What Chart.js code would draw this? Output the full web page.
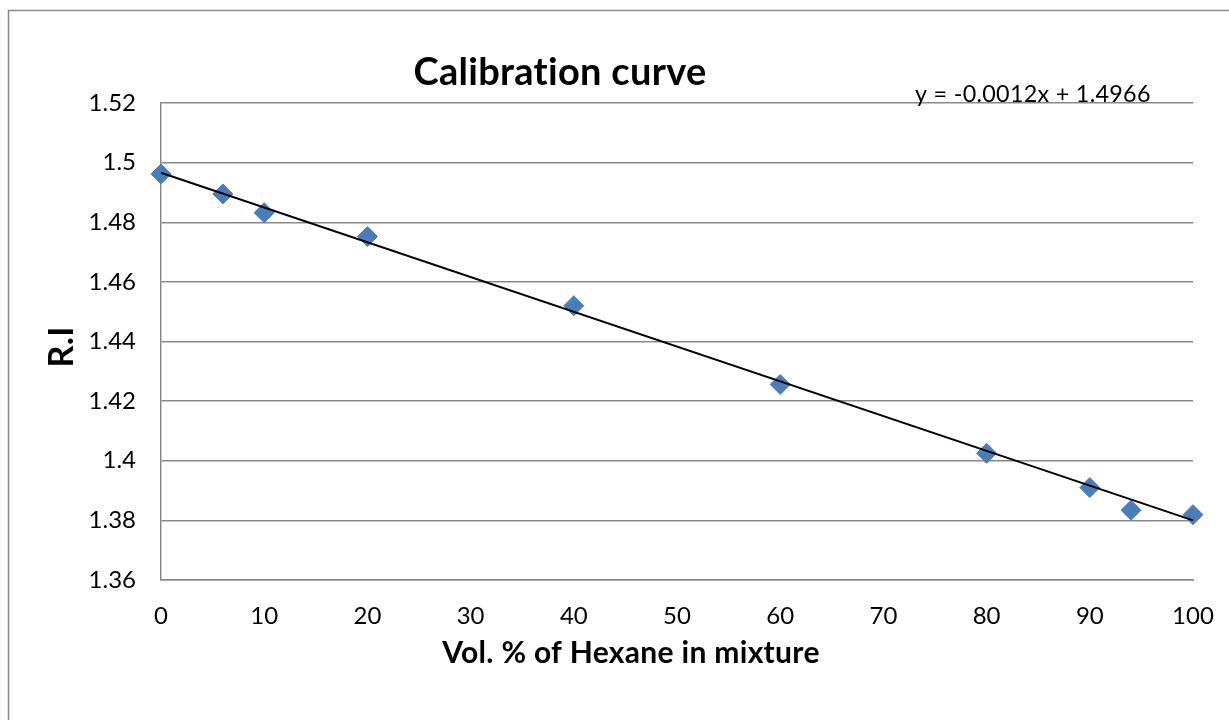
<!DOCTYPE html>
<html>
<head>
<meta charset="utf-8">
<script src="https://cdn.jsdelivr.net/npm/chart.js@4.4.1/dist/chart.umd.min.js"></script>
<style>
  html, body { margin: 0; padding: 0; background: #ffffff; }
  #wrap { width: 1229px; height: 720px; position: relative; }
</style>
</head>
<body>
<div id="wrap"><canvas id="c" width="1229" height="720"></canvas></div>
<script>
// ---- data ----
const chartTitle = 'Calibration curve';
const xAxisTitle = 'Vol. % of Hexane in mixture';
const yAxisTitle = 'R.I';
const equationText = 'y = -0.0012x + 1.4966';

const volHexane = [0, 6, 10, 20, 40, 60, 80, 90, 94, 100];
const refractiveIndex = [1.4962, 1.4895, 1.4832, 1.4752, 1.4520, 1.4256, 1.4025, 1.3910, 1.3834, 1.3819];

const trendX = [0, 100];
const trendY = [1.4966, 1.3800];

const xTickValues = [0, 10, 20, 30, 40, 50, 60, 70, 80, 90, 100];
const xTickLabels = ['0', '10', '20', '30', '40', '50', '60', '70', '80', '90', '100'];
const yTickValues = [1.36, 1.38, 1.40, 1.42, 1.44, 1.46, 1.48, 1.50, 1.52];
const yTickLabels = ['1.36', '1.38', '1.4', '1.42', '1.44', '1.46', '1.48', '1.5', '1.52'];

// ---- chart ----
const FONT = 'Lato, "Open Sans", sans-serif';
const GRID = '#898989';

function fitSize(ctx, text, weight, target) {
  ctx.font = weight + ' 100px ' + FONT;
  return 100 * target / ctx.measureText(text).width;
}

const textPlugin = {
  id: 'excelText',
  afterDraw(chart) {
    const ctx = chart.ctx;
    ctx.save();
    // outer chart border (left and top visible)
    ctx.strokeStyle = GRID;
    ctx.lineWidth = 1.5;
    ctx.beginPath();
    ctx.moveTo(8.5, 720);
    ctx.lineTo(8.5, 10.5);
    ctx.lineTo(1229, 10.5);
    ctx.stroke();

    ctx.fillStyle = '#000000';
    try { ctx.letterSpacing = '0.3px'; } catch (e) {}
    // title
    let s = fitSize(ctx, chartTitle, 'bold', 290);
    ctx.font = 'bold ' + s + 'px ' + FONT;
    ctx.textAlign = 'center';
    ctx.textBaseline = 'alphabetic';
    ctx.fillText(chartTitle, 560, 85);
    // equation
    s = fitSize(ctx, equationText, 'normal', 231);
    ctx.font = 'normal ' + s + 'px ' + FONT;
    ctx.textAlign = 'left';
    ctx.fillText(equationText, 915, 102);
    // x title
    s = fitSize(ctx, xAxisTitle, 'bold', 372);
    ctx.font = 'bold ' + s + 'px ' + FONT;
    ctx.textAlign = 'center';
    ctx.fillText(xAxisTitle, 631, 663);
    // y title
    s = fitSize(ctx, yAxisTitle, 'bold', 40.6);
    ctx.font = 'bold ' + s + 'px ' + FONT;
    ctx.translate(73.3, 347);
    ctx.rotate(-Math.PI / 2);
    ctx.textAlign = 'center';
    ctx.fillText(yAxisTitle, 0, 0);
    ctx.restore();
  }
};

new Chart(document.getElementById('c'), {
  type: 'scatter',
  data: {
    datasets: [
      {
        label: 'Linear (R.I)',
        type: 'line',
        data: trendX.map((x, i) => ({ x: x, y: trendY[i] })),
        borderColor: '#000000',
        borderWidth: 2,
        pointRadius: 0,
        fill: false,
        clip: false,
        order: 0
      },
      {
        label: 'R.I',
        data: volHexane.map((x, i) => ({ x: x, y: refractiveIndex[i] })),
        pointStyle: 'rectRot',
        pointRadius: 10,
        pointBackgroundColor: '#4a7ebb',
        pointBorderColor: '#4a7ebb',
        pointBorderWidth: 1,
        showLine: false,
        clip: false,
        order: 1
      }
    ]
  },
  options: {
    responsive: false,
    animation: false,
    layout: { padding: { left: 0, top: 103, right: 36, bottom: 0 } },
    plugins: {
      legend: { display: false },
      title: { display: false },
      tooltip: { enabled: false }
    },
    scales: {
      x: {
        type: 'linear',
        min: 0,
        max: 100,
        afterBuildTicks: (scale) => { scale.ticks = xTickValues.map(v => ({ value: v })); },
        afterFit: (scale) => { scale.height = 140; scale.paddingLeft = 0; scale.paddingRight = 0; },
        grid: { display: false, drawTicks: false },
        border: { display: true, color: GRID, width: 1.5 },
        ticks: {
          padding: 22,
          color: '#000000',
          font: { family: FONT, size: 24 },
          maxRotation: 0,
          callback: (v, i) => xTickLabels[i]
        }
      },
      y: {
        type: 'linear',
        min: 1.36,
        max: 1.52,
        afterBuildTicks: (scale) => { scale.ticks = yTickValues.map(v => ({ value: v })); },
        afterFit: (scale) => { scale.width = 161; scale.paddingTop = 0; scale.paddingBottom = 0; },
        grid: { display: true, color: GRID, lineWidth: 1.5, drawTicks: false },
        border: { display: true, color: GRID, width: 1.5 },
        ticks: {
          padding: 25,
          color: '#000000',
          font: { family: FONT, size: 24 },
          callback: (v, i) => yTickLabels[i]
        }
      }
    }
  },
  plugins: [textPlugin]
});
</script>
</body>
</html>
